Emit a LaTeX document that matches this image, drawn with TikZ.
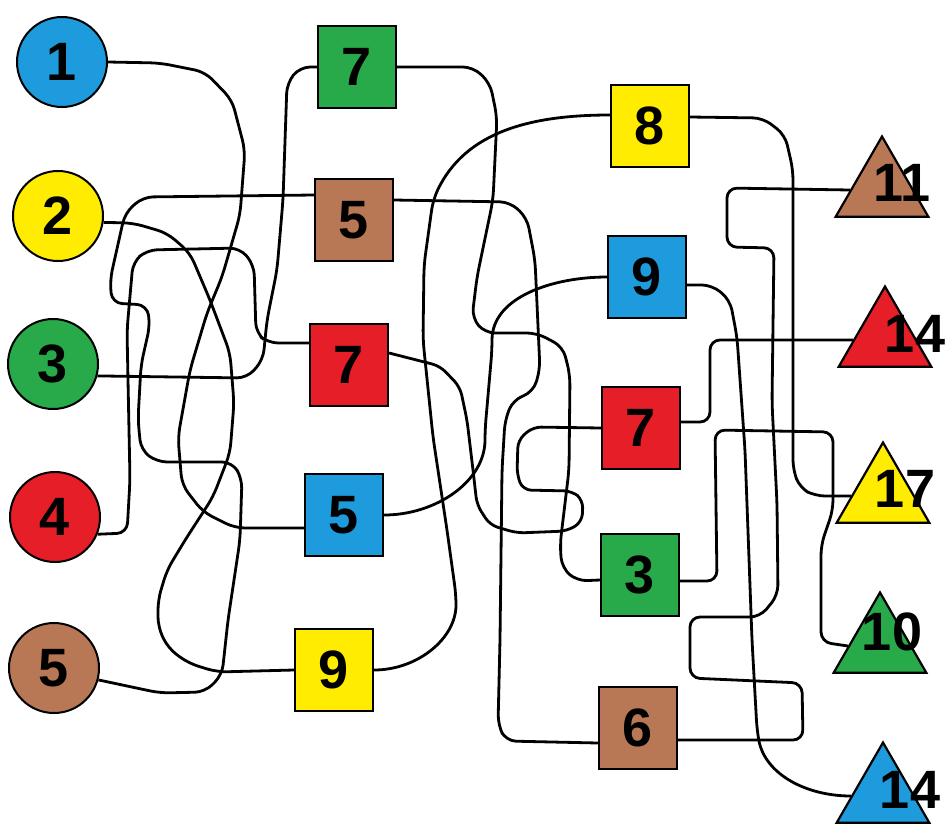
\documentclass[tikz,border=0pt]{standalone}
\usepackage{fontspec}
\setmainfont{Liberation Sans}
\usetikzlibrary{shapes.geometric}
\definecolor{pblue}{RGB}{30,155,220}
\definecolor{pyellow}{RGB}{255,236,0}
\definecolor{pgreen}{RGB}{40,170,75}
\definecolor{pred}{RGB}{230,30,40}
\definecolor{pbrown}{RGB}{185,120,85}

\begin{document}
\begin{tikzpicture}[x=1pt,y=-1pt,
  ball/.style={circle,draw,line width=2pt,minimum size=90pt,inner sep=0pt},
  box/.style={rectangle,draw,line width=2.2pt,minimum width=78pt,minimum height=82pt,inner sep=0pt},
  tri/.style={regular polygon,regular polygon sides=3,draw,line width=2.2pt,minimum size=107pt,inner sep=0pt},
  num/.style={font=\fontsize{54}{54}\selectfont\bfseries,inner sep=0pt},
  wire/.style={line width=2.8pt,rounded corners=10pt}]
  \useasboundingbox (0,0) rectangle (945,825);
  % left circles
  \node[ball,fill=pblue,num] (c1) at (62,62) {1};
  \node[ball,fill=pyellow,num] (c2) at (58,216) {2};
  \node[ball,fill=pgreen,num] (c3) at (53,364) {3};
  \node[ball,fill=pred,num] (c4) at (55,517) {4};
  \node[ball,fill=pbrown,num] (c5) at (54,668) {5};
  % middle squares
  \node[box,fill=pgreen,num] (m1) at (357,67) {7};
  \node[box,fill=pbrown,num] (m2) at (354,220) {5};
  \node[box,fill=pred,num] (m3) at (349,365) {7};
  \node[box,fill=pblue,num] (m4) at (344,515) {5};
  \node[box,fill=pyellow,num] (m5) at (334,670) {9};
  % right squares
  \node[box,fill=pyellow,num] (r1) at (650,126) {8};
  \node[box,fill=pblue,num] (r2) at (647,277) {9};
  \node[box,fill=pred,num] (r3) at (641,428) {7};
  \node[box,fill=pgreen,num] (r4) at (640,575) {3};
  \node[box,fill=pbrown,num] (r5) at (638,728) {6};
  % triangles
  \node[tri,fill=pbrown] (t1) at (882,190) {};
  \node[tri,fill=pred] (t2) at (885,340) {};
  \node[tri,fill=pyellow] (t3) at (883,496) {};
  \node[tri,fill=pgreen] (t4) at (880,646) {};
  \node[tri,fill=pblue] (t5) at (883,796) {};
  \node[num] (n1) at (902,183) {11};
  \node[num] (n2) at (915,334) {14};
  \node[num] (n3) at (905,489) {17};
  \node[num] (n4) at (892,632) {10};
  \node[num] (n5) at (910,790) {14};
  % circles to middle column
  \draw[wire] (c1.east) -- (160,63) -- (205,72) -- (232,100) -- (245,150) -- (240,215) -- (222,277) -- (207,313) -- (190,370) -- (178,437) -- (182,485) -- (203,512) -- (235,528) -- ([yshift=-13pt]m4.west);
  \draw[wire] (c2.-8) -- (133,223) -- (167,233) -- (190,253) -- (210,300) -- (230,353) -- (234,403) -- (230,453) -- (213,497) -- (187,537) -- (167,570) -- (158,600) -- (158,627) -- (168,648) -- (188,663) -- (217,672) -- (m5.west);
  \draw[wire] (c3.-15) -- (247,378) -- (263,360) -- (267,320) -- (277,270) -- (283,200) -- (287,83) -- (300,67) -- (m1.west);
  \draw[wire] (c4.-22) -- (127,533) -- (130,480) -- (127,330) -- (133,262) -- (147,250) -- (240,248) -- (254,265) -- (256,333) -- (268,343) -- ([yshift=22pt]m3.west);
  \draw[wire] (c5.-15) -- (160,693) -- (205,692) -- (222,675) -- (228,620) -- (240,540) -- (242,478) -- (232,462) -- (157,462) -- (141,450) -- (138,420) -- (141,365) -- (150,325) -- (147,305) -- (112,303) -- (110,280) -- (125,213) -- (143,197) -- ([yshift=25pt]m2.west);
  % middle to right column
  \draw[wire] (m1.east) -- (473,67) -- (490,83) -- (497,117) -- (493,200) -- (477,277) -- (472,318) -- (485,333) -- (537,333) -- (563,347) -- (570,375) -- (569,470) -- (560,545) -- (562,568) -- (577,581) -- ([yshift=-5pt]r4.west);
  \draw[wire] ([yshift=20pt]m2.east) -- (510,202) -- (527,218) -- (535,260) -- (540,370) -- (533,392) -- (513,400) -- (505,420) -- (502,470) -- (500,640) -- (498,725) -- (506,741) -- ([yshift=-15pt]r5.west);
  \draw[wire,rounded corners=8pt] ([yshift=12pt]m3.east) -- (440,366) -- (460,387) -- (467,420) -- (473,470) -- (477,505) -- (490,525) -- (517,533) -- (567,531) -- (582,522) -- (583,500) -- (572,491) -- (523,490) -- (517,475) -- (518,440) -- (533,427) -- (r3.west);
  \draw[wire] (m4.east) to[out=0,in=-90] (485,430) -- (492,350) to[out=90,in=180] (r2.west);
  \draw[wire] (m5.east) to[out=0,in=-90] (456,595) -- (447,530) -- (433,437) -- (423,340) -- (424,265) -- (433,200) to[out=65,in=180] ([yshift=11pt]r1.west);
  % right column to triangles
  \draw[wire] ([yshift=9pt]r1.east) -- (763,118) -- (785,135) -- (793,170) -- (793,470) -- (800,488) -- (815,496) -- (t3.west);
  \draw[wire] ([yshift=-12pt]r5.east) -- (803,740) -- (802,683) -- (690,678) -- (690,617) -- (760,617) -- (778,595) -- (777,503) -- (772,403) -- (774,248) -- (727,247) -- (727,188) -- (t1.west);
  \draw[wire] ([yshift=-8pt]r2.east) -- (712,285) -- (730,300) -- (737,337) -- (745,450) -- (752,640) -- (757,730) to[out=-80,in=180] (t5.west);
  \draw[wire] ([yshift=6pt]r3.east) -- (710,422) -- (710,340) -- (t2.west);
  \draw[wire] ([yshift=-6pt]r4.east) -- (717,581) -- (715,430) -- (833,432) -- (833,510) -- (821,545) -- (821,642) -- (t4.west);
\end{tikzpicture}
\end{document}
